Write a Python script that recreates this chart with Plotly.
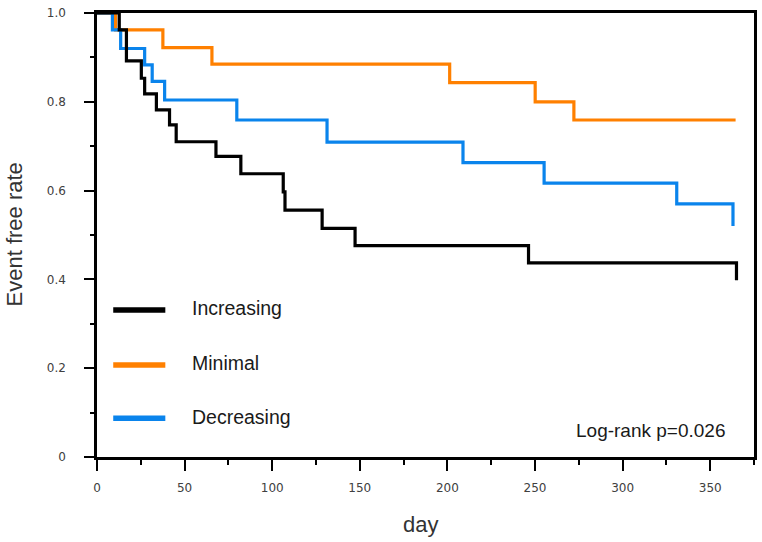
import plotly.graph_objects as go

# ---- data ----
inc_days = [0, 12.7, 16.8, 25.3, 27.2, 33.9, 41.4, 45.2, 67.9, 82.1, 106.3, 107.3, 128.5, 147.3, 246.3, 365]
inc_rate = [1.0, 0.962, 0.892, 0.853, 0.818, 0.782, 0.748, 0.710, 0.677, 0.638, 0.597, 0.556, 0.515, 0.476, 0.437, 0.398]

min_days = [0, 10.6, 37.6, 65.6, 201.3, 250.1, 272.2, 364.5]
min_rate = [1.0, 0.962, 0.922, 0.885, 0.843, 0.800, 0.759, 0.759]

dec_days = [0, 8.8, 13.5, 27.2, 31.5, 38.6, 79.8, 131.3, 208.9, 255.2, 330.9, 363]
dec_rate = [1.0, 0.962, 0.920, 0.883, 0.846, 0.804, 0.759, 0.709, 0.663, 0.617, 0.570, 0.520]

series_names = ["Increasing", "Minimal", "Decreasing"]
series_colors = ["#000000", "#FF8000", "#0A84EC"]

x_tickvals = [0, 50, 100, 150, 200, 250, 300, 350]
y_tickvals = [0, 0.2, 0.4, 0.6, 0.8, 1.0]
y_ticktext = ["0", "0.2", "0.4", "0.6", "0.8", "1.0"]

pvalue_text = "Log-rank p=0.026"
x_title = "day"
y_title = "Event free rate"

# ---- figure ----
fig = go.Figure()
data = [(inc_days, inc_rate), (min_days, min_rate), (dec_days, dec_rate)]
# draw black last so it sits on top like the reference
order = [1, 2, 0]
for i in order:
    d, r = data[i]
    fig.add_trace(go.Scatter(
        x=d, y=r, mode="lines", name=series_names[i],
        line=dict(color=series_colors[i], width=3.2, shape="hv"),
        showlegend=False, hoverinfo="skip",
    ))

text_font = "Liberation Sans, Arial, sans-serif"
tick_font = dict(family="DejaVu Sans, Verdana, sans-serif", size=12, color="#404040")

fig.update_xaxes(
    range=[0, 375], tickvals=x_tickvals, ticks="outside", ticklen=11, tickwidth=2,
    tickcolor="#000", showline=True, linecolor="#000", linewidth=2.5, mirror=True,
    showgrid=False, zeroline=False, tickfont=tick_font, ticklabelstandoff=7,
    minor=dict(dtick=25, tick0=0, ticks="outside", ticklen=5, tickwidth=2, tickcolor="#000", showgrid=False),
)
fig.update_yaxes(
    range=[0, 1.0], tickvals=y_tickvals, ticktext=y_ticktext, ticks="outside", ticklen=10,
    tickwidth=2, tickcolor="#000", showline=True, linecolor="#000", linewidth=2.5, mirror=True,
    showgrid=False, zeroline=False, tickfont=tick_font, ticklabelstandoff=16,
    minor=dict(dtick=0.1, tick0=0, ticks="outside", ticklen=4, tickwidth=2, tickcolor="#000", showgrid=False),
)

# manual legend
legend_y = [0.331, 0.207, 0.087]
shapes = []
annotations = []
for i in range(3):
    shapes.append(dict(type="line", xref="paper", yref="paper", x0=0.0247, x1=0.104,
                       y0=legend_y[i], y1=legend_y[i],
                       line=dict(color=series_colors[i], width=5.5)))
    annotations.append(dict(xref="paper", yref="paper", x=0.1409, y=legend_y[i] + 0.004,
                            text=series_names[i], showarrow=False, xanchor="left", yanchor="middle",
                            font=dict(family=text_font, size=19.5, color="#1a1a1a")))

annotations.append(dict(xref="paper", yref="paper", x=0.959, y=0.060, text=pvalue_text,
                        showarrow=False, xanchor="right", yanchor="middle",
                        font=dict(family=text_font, size=19, color="#1a1a1a")))
annotations.append(dict(xref="paper", yref="paper", x=-0.1258, y=0.502, text=y_title, textangle=-90,
                        showarrow=False, xanchor="center", yanchor="middle",
                        font=dict(family=text_font, size=22, color="#333333")))
annotations.append(dict(xref="paper", yref="paper", x=0.492, y=-0.152, text=x_title,
                        showarrow=False, xanchor="center", yanchor="middle",
                        font=dict(family=text_font, size=22, color="#333333")))

fig.update_layout(
    width=762, height=542,
    margin=dict(l=97, r=5, t=13, b=85),
    paper_bgcolor="white", plot_bgcolor="white",
    shapes=shapes, annotations=annotations,
)

fig.write_html(
    "out.html",
    config={"displayModeBar": False},
    post_script="document.body.style.margin='0px';document.body.style.overflow='hidden';",
)
